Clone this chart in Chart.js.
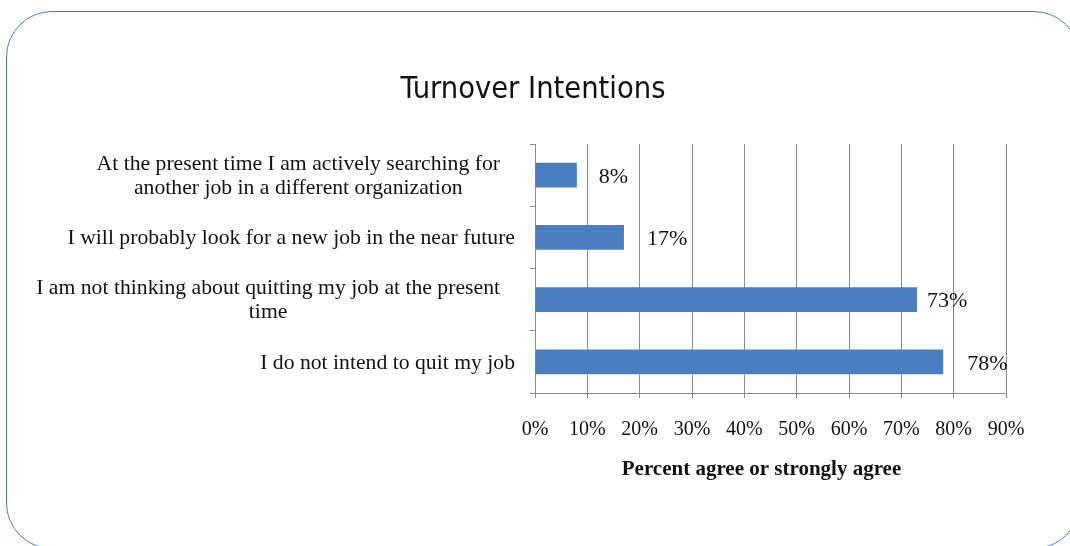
<!DOCTYPE html>
<html>
<head>
<meta charset="utf-8">
<title>Turnover Intentions</title>
<script src="https://cdn.jsdelivr.net/npm/chart.js@4.4.1/dist/chart.umd.min.js"></script>
<style>
  html, body { margin: 0; padding: 0; background: #fff; overflow: hidden; }
  #wrap { position: relative; width: 1070px; height: 546px; overflow: hidden; }
  #frame {
    position: absolute; left: 6px; top: 11px; width: 1074px; height: 538px;
    border: 1.5px solid #4a7ebb; border-radius: 46px; box-sizing: border-box;
  }
  #chart { position: absolute; left: 0; top: 0; }
</style>
</head>
<body>
<div id="wrap">
  <div id="frame"></div>
  <canvas id="chart" width="1070" height="546"></canvas>
</div>
<script>
// survey statements, top to bottom
var statements = [
    ['At the present time I am actively searching for', 'another job in a different organization'],
    'I will probably look for a new job in the near future',
    ['I am not thinking about quitting my job at the present', 'time'],
    'I do not intend to quit my job'
];
// percent agree or strongly agree
var agreePct = [8, 17, 73, 78];
var tickValues = [0, 10, 20, 30, 40, 50, 60, 70, 80, 90];
// horizontal nudge of each value label past its bar end
var labelNudge = [22, 23, 10, 24];

var serif = '"Liberation Serif", "Times New Roman", serif';
var chartTitle = 'Turnover Intentions';
var axisTitle = 'Percent agree or strongly agree';

// value labels past the bar ends, wrapped category labels, titles
const textLayer = {
    id: 'textLayer',
    afterDraw(chart) {
        const { ctx, chartArea, scales } = chart;
        const meta = chart.getDatasetMeta(0);
        ctx.save();
        ctx.fillStyle = '#111';
        ctx.textBaseline = 'middle';

        ctx.font = '22px ' + serif;
        ctx.textAlign = 'left';
        meta.data.forEach((bar, i) => {
            ctx.fillText(agreePct[i] + '%', bar.x + labelNudge[i], bar.y + 2);
        });

        // category labels: single lines flush right, wrapped ones centred as a block
        ctx.font = '21.7px ' + serif;
        ctx.textAlign = 'center';
        statements.forEach((label, i) => {
            const lines = Array.isArray(label) ? label : [label];
            const y = scales.y.getPixelForValue(i);
            const widest = Math.max(...lines.map(l => ctx.measureText(l).width));
            const right = chartArea.left - (lines.length > 1 ? 35 : 20);
            const cx = right - widest / 2;
            const lh = 24;
            lines.forEach((l, j) => {
                ctx.fillText(l, cx, y + 1 + (j - (lines.length - 1) / 2) * lh);
            });
        });

        ctx.font = 'bold 21px ' + serif;
        ctx.fillText(axisTitle, (chartArea.left + chartArea.right) / 2 - 9, chartArea.bottom + 77);

        ctx.font = '30.5px "DejaVu Sans Condensed", "DejaVu Sans", sans-serif';
        ctx.fillText(chartTitle, 533, 90);
        ctx.restore();
    }
};

const ctx = document.getElementById('chart').getContext('2d');
const chart = new Chart(ctx, {
    type: 'bar',
    data: {
        labels: statements,
        datasets: [{
            data: agreePct,
            backgroundColor: '#4a7ebf',
            borderWidth: 0,
            categoryPercentage: 1,
            barPercentage: 0.4
        }]
    },
    options: {
        indexAxis: 'y',
        responsive: false,
        animation: false,
        layout: { padding: { left: 0, right: 64, top: 144, bottom: 0 } },
        plugins: {
            legend: { display: false },
            tooltip: { enabled: false },
            title: { display: false }
        },
        scales: {
            x: {
                min: 0,
                max: 90,
                afterBuildTicks: (scale) => {
                    scale.ticks = tickValues.map(v => ({ value: v }));
                },
                afterFit: (scale) => { scale.height = 153; },
                grid: {
                    color: '#8a8a8a',
                    lineWidth: 1,
                    tickLength: 5
                },
                border: { color: '#8a8a8a', width: 1 },
                ticks: {
                    color: '#111',
                    padding: 20,
                    maxRotation: 0,
                    font: { family: serif, size: 20 },
                    callback: (v) => v + '%'
                }
            },
            y: {
                afterFit: (scale) => { scale.width = 535; },
                grid: {
                    offset: true,
                    drawOnChartArea: false,
                    color: '#8a8a8a',
                    tickLength: 5
                },
                border: { color: '#8a8a8a', width: 1 },
                ticks: { display: false }
            }
        }
    },
    plugins: [textLayer]
});
</script>
</body>
</html>
